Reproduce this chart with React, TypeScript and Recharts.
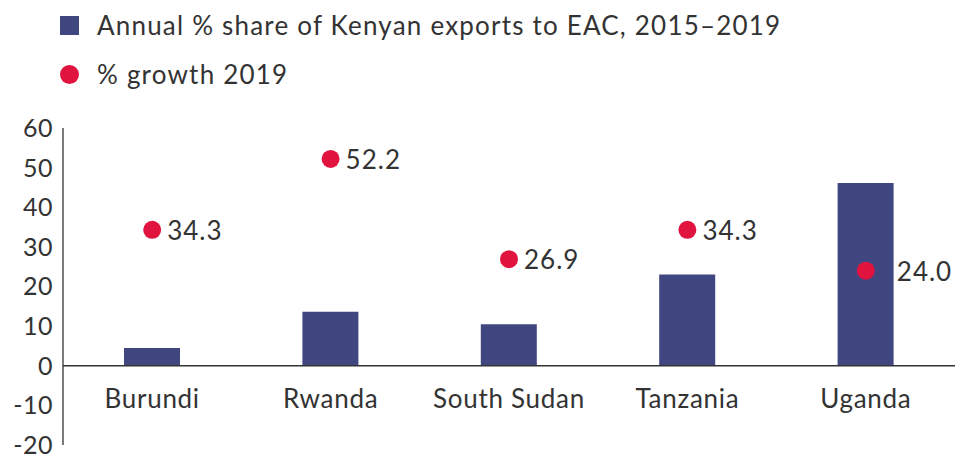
import { Bar, ComposedChart, LabelList, Line, ReferenceLine, XAxis, YAxis } from "recharts";

const countries = ["Burundi", "Rwanda", "South Sudan", "Tanzania", "Uganda"];
const exportShare = [4.5, 13.6, 10.5, 23.0, 46.1];
const growth2019 = [34.3, 52.2, 26.9, 34.3, 24.0];
const yTicks = [-20, -10, 0, 10, 20, 30, 40, 50, 60];
const legendItems = ["Annual % share of Kenyan exports to EAC, 2015–2019", "% growth 2019"];

const BAR_COLOR = "#3f4680";
const DOT_COLOR = "#e0143f";
const TEXT_COLOR = "#333333";
const FONT = "Lato, 'Open Sans', sans-serif";

const data = countries.map((country, i) => ({
  country,
  share: exportShare[i],
  growth: growth2019[i],
}));

const CategoryTick = (props: any) => {
  const { x, y, payload } = props;
  return (
    <text
      x={x}
      y={y}
      dy={-45}
      textAnchor="middle"
      fill={TEXT_COLOR}
      fontSize={26}
      letterSpacing={0.7}
      fontFamily={FONT}
    >
      {payload.value}
    </text>
  );
};

const GrowthLabel = (props: any) => {
  const { x, y, value, index } = props;
  // the Uganda point sits inside its bar, so its label is pushed past the bar edge
  const offset = index === countries.length - 1 ? 31 : 15;
  return (
    <text
      x={x + offset}
      y={y}
      dominantBaseline="central"
      fill={TEXT_COLOR}
      fontSize={26}
      letterSpacing={1}
      fontFamily={FONT}
    >
      {Number(value).toFixed(1)}
    </text>
  );
};

const Legend = () => (
  <div style={{ position: "absolute", left: 0, top: 0, fontFamily: FONT, color: TEXT_COLOR, fontSize: 26, letterSpacing: 1.2 }}>
    {legendItems.map((label, i) => (
      <div
        key={label}
        style={{ position: "absolute", left: 60, top: i === 0 ? 8 : 57, display: "flex", alignItems: "center", whiteSpace: "nowrap", height: 34 }}
      >
        <span
          style={{
            display: "inline-block",
            width: 19,
            height: 19,
            background: i === 0 ? BAR_COLOR : DOT_COLOR,
            borderRadius: i === 0 ? 0 : "50%",
            marginRight: 18,
          }}
        />
        <span>{label}</span>
      </div>
    ))}
  </div>
);

export default function App() {
  return (
    <div style={{ position: "absolute", left: 0, top: 0, width: 957, height: 454, background: "#fff" }}>
      <ComposedChart
        width={957}
        height={454}
        data={data}
        margin={{ top: 128, right: 2, bottom: 8, left: 0 }}
        barCategoryGap={0}
      >
        <XAxis
          dataKey="country"
          height={1}
          axisLine={false}
          tickLine={false}
          tick={<CategoryTick />}
          interval={0}
        />
        <YAxis
          width={63}
          domain={[-20, 60]}
          ticks={yTicks}
          interval={0}
          tickLine={false}
          tickSize={0}
          tickMargin={10}
          axisLine={{ stroke: TEXT_COLOR, strokeWidth: 1.3 }}
          tick={{ fill: TEXT_COLOR, fontSize: 25, fontFamily: FONT, letterSpacing: 0.5 }}
        />
        <ReferenceLine y={0} stroke={TEXT_COLOR} strokeWidth={1.3} />
        <Bar dataKey="share" fill={BAR_COLOR} barSize={56} isAnimationActive={false} />
        <Line
          dataKey="growth"
          stroke="none"
          dot={{ r: 9, fill: DOT_COLOR, stroke: "none" }}
          activeDot={false}
          isAnimationActive={false}
        >
          <LabelList dataKey="growth" content={<GrowthLabel />} />
        </Line>
      </ComposedChart>
      <Legend />
    </div>
  );
}
